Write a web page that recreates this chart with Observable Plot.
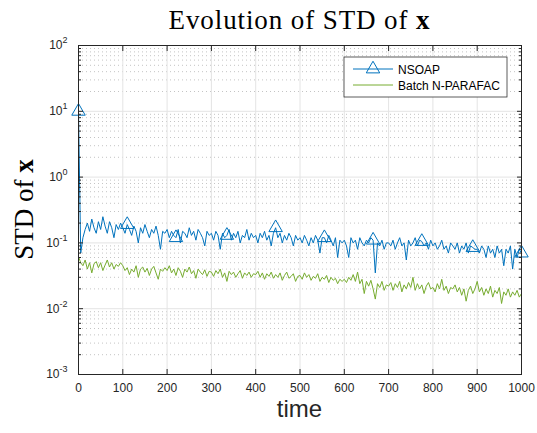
<!DOCTYPE html>
<html>
<head>
<meta charset="utf-8">
<script src="https://cdn.jsdelivr.net/npm/d3@7"></script>
<script src="https://cdn.jsdelivr.net/npm/@observablehq/plot@0.6"></script>
<style>
  html, body { margin: 0; padding: 0; background: white; }
  #chart svg { display: block; }
</style>
</head>
<body>
<div id="chart"></div>
<script>
const time = d3.range(0, 1001, 5);
const nsoap = [
  10, 0.07, 0.12, 0.16, 0.2, 0.15, 0.23, 0.17, 0.14, 0.21, 0.16, 0.25, 0.18, 0.14, 0.21, 0.17, 0.12, 0.19, 0.16, 0.2,
  0.17, 0.14, 0.19, 0.16, 0.13, 0.18, 0.15, 0.1, 0.17, 0.14, 0.19, 0.15, 0.12, 0.16, 0.14, 0.18, 0.13, 0.08, 0.15, 0.14,
  0.16, 0.12, 0.15, 0.13, 0.12, 0.16, 0.1, 0.15, 0.14, 0.12, 0.17, 0.13, 0.15, 0.11, 0.16, 0.14, 0.12, 0.09, 0.15, 0.13,
  0.14, 0.11, 0.15, 0.13, 0.08, 0.14, 0.12, 0.13, 0.16, 0.11, 0.14, 0.12, 0.15, 0.1, 0.13, 0.12, 0.16, 0.11, 0.14, 0.12,
  0.13, 0.1, 0.14, 0.12, 0.15, 0.11, 0.13, 0.09, 0.14, 0.17, 0.12, 0.14, 0.1, 0.13, 0.11, 0.14, 0.12, 0.09, 0.13, 0.11,
  0.12, 0.1, 0.13, 0.11, 0.09, 0.12, 0.1, 0.13, 0.11, 0.07, 0.12, 0.12, 0.1, 0.13, 0.11, 0.09, 0.12, 0.06, 0.11, 0.1,
  0.11, 0.09, 0.06, 0.12, 0.1, 0.11, 0.08, 0.12, 0.1, 0.09, 0.11, 0.1, 0.12, 0.11, 0.035, 0.1, 0.09, 0.11, 0.08, 0.1,
  0.1, 0.09, 0.11, 0.08, 0.1, 0.12, 0.09, 0.1, 0.055, 0.11, 0.09, 0.1, 0.12, 0.09, 0.11, 0.105, 0.09, 0.1, 0.08, 0.11,
  0.09, 0.1, 0.08, 0.09, 0.11, 0.08, 0.09, 0.07, 0.1, 0.09, 0.08, 0.1, 0.07, 0.09, 0.08, 0.1, 0.07, 0.09, 0.085, 0.08,
  0.08, 0.07, 0.09, 0.08, 0.06, 0.09, 0.07, 0.08, 0.06, 0.09, 0.07, 0.08, 0.045, 0.08, 0.07, 0.09, 0.04, 0.08, 0.06, 0.08, 0.07
];
const batch = [
  0.062, 0.05, 0.045, 0.055, 0.04, 0.05, 0.035, 0.048, 0.052, 0.042, 0.05, 0.038, 0.046, 0.055, 0.043, 0.05, 0.04, 0.047, 0.044, 0.05,
  0.045, 0.038, 0.042, 0.033, 0.04, 0.036, 0.045, 0.03, 0.04, 0.043, 0.036, 0.041, 0.032, 0.04, 0.044, 0.035, 0.028, 0.04, 0.037, 0.042,
  0.038, 0.045, 0.035, 0.04, 0.032, 0.042, 0.037, 0.03, 0.04, 0.036, 0.043, 0.034, 0.038, 0.029, 0.04, 0.036, 0.033, 0.039, 0.031, 0.037,
  0.036, 0.031, 0.038, 0.034, 0.04, 0.03, 0.035, 0.026, 0.037, 0.033, 0.036, 0.03, 0.034, 0.038, 0.029, 0.035, 0.032, 0.036, 0.03, 0.034,
  0.033, 0.037, 0.03, 0.035, 0.028, 0.034, 0.031, 0.036, 0.029, 0.033, 0.03, 0.035, 0.027, 0.032, 0.036, 0.029, 0.031, 0.034, 0.026, 0.031,
  0.032, 0.028, 0.035, 0.03, 0.033, 0.027, 0.031, 0.029, 0.034, 0.026, 0.03, 0.028, 0.032, 0.025, 0.03, 0.027, 0.029, 0.024, 0.028, 0.026,
  0.028, 0.025, 0.03, 0.027, 0.033, 0.026, 0.036, 0.024, 0.028, 0.017, 0.026, 0.022, 0.027, 0.02, 0.014, 0.024, 0.021, 0.026, 0.019, 0.023,
  0.022, 0.025, 0.019, 0.024, 0.021, 0.026, 0.018, 0.023, 0.02, 0.025, 0.021, 0.03, 0.019, 0.024, 0.02, 0.023, 0.017, 0.022, 0.025, 0.02,
  0.021, 0.018, 0.024, 0.02, 0.028, 0.019, 0.022, 0.017, 0.021, 0.02, 0.023, 0.018, 0.021, 0.016, 0.02, 0.013, 0.019, 0.022, 0.017, 0.02,
  0.026, 0.018, 0.021, 0.016, 0.02, 0.017, 0.022, 0.015, 0.019, 0.017, 0.021, 0.012, 0.018, 0.016, 0.02, 0.015, 0.018, 0.016, 0.019, 0.015, 0.017
];
const markerTimes = [0, 110, 220, 335, 445, 555, 665, 775, 890, 1000];
const seriesNames = ["NSOAP", "Batch N-PARAFAC"];
const xTicks = [0, 100, 200, 300, 400, 500, 600, 700, 800, 900, 1000];
const yTicks = [1e-3, 1e-2, 1e-1, 1e0, 1e1, 1e2];
const yMinorTicks = yTicks.slice(0, -1).flatMap(d => [2, 3, 4, 5, 6, 7, 8, 9].map(k => k * d));

(function () {
// ---- build tables ----
const nsoapRows = time.map((t, i) => ({time: t, value: nsoap[i], series: seriesNames[0]}));
const batchRows = time.map((t, i) => ({time: t, value: batch[i], series: seriesNames[1]}));
const markerRows = nsoapRows.filter(d => markerTimes.includes(d.time));

const blue = "#0072BD", green = "#77AC30", axisColor = "#262626";
const W = 537, H = 433;

const plot = Plot.plot({
  width: W, height: H,
  marginLeft: 78, marginRight: 16, marginTop: 45, marginBottom: 59,
  style: {fontFamily: "'Liberation Sans', Arial, sans-serif", fontSize: "12px", color: axisColor, background: "white", overflow: "visible"},
  x: {domain: [0, 1000]},
  y: {type: "log", domain: [1e-3, 1e2]},
  marks: [
    Plot.ruleY(yMinorTicks, {stroke: "#c4c4c4", strokeDasharray: "1,3"}),
    Plot.ruleX(xTicks, {stroke: "#e4e4e4"}),
    Plot.ruleY(yTicks, {stroke: "#e4e4e4"}),
    Plot.line(batchRows, {x: "time", y: "value", stroke: green, strokeWidth: 1}),
    Plot.line(nsoapRows, {x: "time", y: "value", stroke: blue, strokeWidth: 1}),
    Plot.dot(markerRows, {x: "time", y: "value", symbol: "triangle", r: 5, stroke: blue, fill: "none", strokeWidth: 1}),
    Plot.frame({stroke: axisColor, strokeWidth: 1}),
    // labels
    Plot.axisX({ticks: xTicks, anchor: "bottom", tickSize: 0, tickPadding: 9, label: null, fill: axisColor,
      tickFormat: d => String(d)}),
    Plot.axisY({ticks: yTicks, anchor: "left", tickSize: 0, tickPadding: 11, label: null, fill: axisColor,
      tickFormat: d => "10^" + Math.round(Math.log10(d))}),
    // inward ticks
    Plot.axisX({ticks: xTicks, anchor: "bottom", tickSize: -5, fill: "none", label: null, stroke: axisColor}),
    Plot.axisX({ticks: xTicks, anchor: "top", tickSize: -5, fill: "none", label: null, stroke: axisColor}),
    Plot.axisY({ticks: yTicks, anchor: "left", tickSize: -5, fill: "none", label: null, stroke: axisColor}),
    Plot.axisY({ticks: yTicks, anchor: "right", tickSize: -5, fill: "none", label: null, stroke: axisColor}),
    Plot.axisY({ticks: yMinorTicks, anchor: "left", tickSize: -3, fill: "none", label: null, stroke: axisColor}),
    Plot.axisY({ticks: yMinorTicks, anchor: "right", tickSize: -3, fill: "none", label: null, stroke: axisColor})
  ]
});

document.getElementById("chart").appendChild(plot);
const svg = d3.select(plot);
svg.selectAll('g[aria-label="frame"] rect').attr("shape-rendering", "crispEdges");

// superscript exponents on y tick labels
svg.selectAll('g[aria-label="y-axis tick label"] text').each(function () {
  const s = d3.select(this).text();
  const exp = s.split("^")[1];
  const el = d3.select(this);
  el.text(null);
  el.append("tspan").text("10");
  el.append("tspan").attr("dy", "-6").attr("font-size", "9px").text(exp);
});

const xs = plot.scale("x"), ys = plot.scale("y");
const xLeft = xs.range[0], xRight = xs.range[1];
const yTop = ys.range[1], yBottom = ys.range[0];

// title
svg.append("text")
  .attr("x", (xLeft + xRight) / 2).attr("y", 29)
  .attr("text-anchor", "middle")
  .attr("font-family", "'Liberation Serif', 'Times New Roman', serif")
  .attr("font-size", "27px").attr("letter-spacing", "0.9px")
  .attr("fill", "#000")
  .html('Evolution of STD of <tspan font-weight="bold">x</tspan>');

// y label
svg.append("text")
  .attr("transform", `translate(33,${(yTop + yBottom) / 2}) rotate(-90)`)
  .attr("text-anchor", "middle")
  .attr("font-family", "'Liberation Serif', 'Times New Roman', serif")
  .attr("font-size", "27px")
  .attr("fill", "#000")
  .html('STD of <tspan font-weight="bold">x</tspan>');

// x label
svg.append("text")
  .attr("x", (xLeft + xRight) / 2).attr("y", 417)
  .attr("text-anchor", "middle")
  .attr("font-family", "'Liberation Sans', Arial, sans-serif")
  .attr("font-size", "24px")
  .attr("fill", axisColor)
  .text("time");

// legend
const lg = svg.append("g").attr("transform", "translate(344,57)");
lg.append("rect").attr("width", 163).attr("height", 40)
  .attr("fill", "white").attr("stroke", axisColor).attr("stroke-width", 0.75);
const items = [{name: seriesNames[0], color: blue, marker: true}, {name: seriesNames[1], color: green, marker: false}];
items.forEach((it, i) => {
  const y = 12 + i * 16;
  lg.append("line").attr("x1", 9).attr("x2", 49).attr("y1", y).attr("y2", y)
    .attr("stroke", it.color).attr("stroke-width", 1);
  if (it.marker) {
    lg.append("path").attr("d", d3.symbol(d3.symbolTriangle, Math.PI * 25)())
      .attr("transform", `translate(29,${y})`)
      .attr("fill", "none").attr("stroke", it.color).attr("stroke-width", 1);
  }
  lg.append("text").attr("x", 54).attr("y", y + 4.5)
    .attr("text-anchor", "start")
    .attr("font-family", "'Liberation Sans', Arial, sans-serif")
    .attr("font-size", "12px").attr("fill", "#000")
    .text(it.name);
});
})();
</script>
</body>
</html>
